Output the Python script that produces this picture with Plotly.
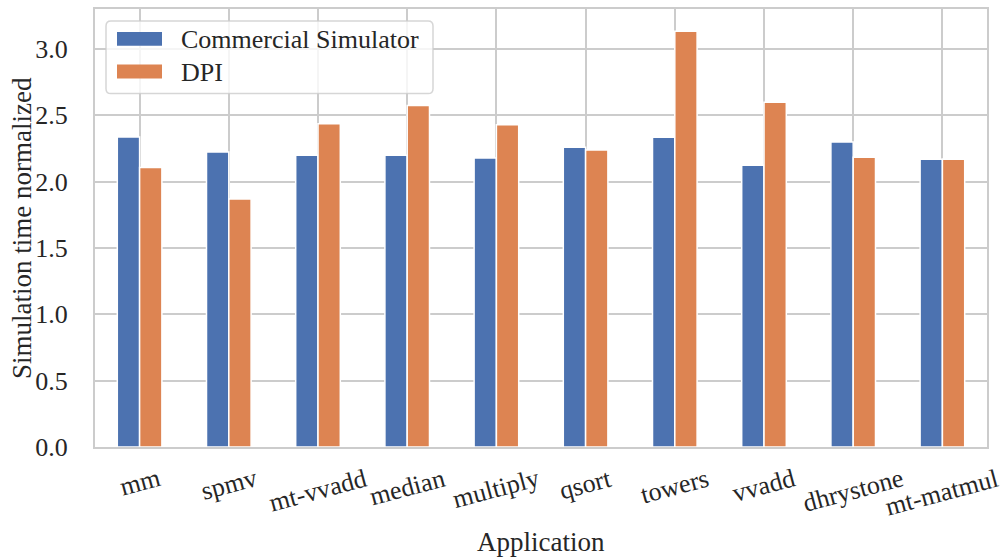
import plotly.graph_objects as go

# Benchmark applications and normalized simulation times
applications = ["mm", "spmv", "mt-vvadd", "median", "multiply", "qsort",
                "towers", "vvadd", "dhrystone", "mt-matmul"]
commercial_sim = [2.335, 2.223, 2.198, 2.198, 2.178, 2.258, 2.333, 2.123, 2.298, 2.168]
dpi = [2.105, 1.868, 2.436, 2.573, 2.428, 2.238, 3.133, 2.598, 2.183, 2.168]
series_names = ["Commercial Simulator", "DPI"]
y_ticks = [0.0, 0.5, 1.0, 1.5, 2.0, 2.5, 3.0]

BLUE = "#4C72B0"
ORANGE = "#DD8452"
GRID = "#cccccc"
TEXT = "#262626"
FONT = "Liberation Serif"
FS = 26          # tick labels and legend
FS_TITLE = 27    # axis titles

W, H = 1001, 557
L, R, T, B = 95, 14, 7, 110
PW, PH = W - L - R, H - T - B


def px_x(px):
    return (px - L) / PW


def px_y(py):
    return (H - B - py) / PH


fig = go.Figure()
for name, vals, col in [(series_names[0], commercial_sim, BLUE),
                        (series_names[1], dpi, ORANGE)]:
    fig.add_trace(go.Bar(
        x=applications, y=vals, name=name,
        marker=dict(color=col, line=dict(color="white", width=1.5)),
        showlegend=False,
    ))

fig.update_layout(
    width=W, height=H,
    margin=dict(l=L, r=R, t=T, b=B, pad=0),
    paper_bgcolor="white", plot_bgcolor="white",
    barmode="group", bargap=0.5, bargroupgap=0,
    font=dict(family=FONT, size=FS, color=TEXT),
)
fig.update_xaxes(
    range=[-0.5, len(applications) - 0.5],
    showgrid=True, gridcolor=GRID, gridwidth=1.5,
    showline=True, linecolor=GRID, linewidth=2, mirror=True,
    showticklabels=False, ticks="", zeroline=False,
)
fig.update_yaxes(
    range=[0, 3.3], tickvals=y_ticks, ticktext=[f"{v:.1f}" for v in y_ticks],
    showgrid=True, gridcolor=GRID, gridwidth=1.5,
    showline=True, linecolor=GRID, linewidth=2, mirror=True,
    ticks="", zeroline=False, ticklabelstandoff=20,
    tickfont=dict(family=FONT, size=FS, color=TEXT),
)

# Rotated category labels, centred under each group
for app in applications:
    fig.add_annotation(
        x=app, y=0, xref="x", yref="paper", yanchor="top", xanchor="center",
        yshift=-14, text=app, textangle=-15, showarrow=False,
        font=dict(family=FONT, size=FS, color=TEXT),
    )

# Axis titles
fig.add_annotation(x=0.5, y=px_y(542), xref="paper", yref="paper",
                   xanchor="center", yanchor="middle", text="Application",
                   showarrow=False, font=dict(family=FONT, size=FS_TITLE, color=TEXT))
fig.add_annotation(x=px_x(22), y=0.5, xref="paper", yref="paper",
                   xanchor="center", yanchor="middle", textangle=-90,
                   text="Simulation time normalized", showarrow=False,
                   font=dict(family=FONT, size=FS_TITLE, color=TEXT))

# Legend frame with rounded corners
x0, x1, y0, y1 = px_x(106), px_x(433), px_y(92), px_y(19)
rx, ry = 5 / PW, 5 / PH
path = (f"M {x0+rx},{y1} L {x1-rx},{y1} Q {x1},{y1} {x1},{y1-ry} "
        f"L {x1},{y0+ry} Q {x1},{y0} {x1-rx},{y0} L {x0+rx},{y0} "
        f"Q {x0},{y0} {x0},{y0+ry} L {x0},{y1-ry} Q {x0},{y1} {x0+rx},{y1} Z")
fig.add_shape(type="path", path=path, xref="paper", yref="paper",
              fillcolor="rgba(255,255,255,0.8)",
              line=dict(color="rgba(204,204,204,0.8)", width=1.5))

for i, (name, col) in enumerate(zip(series_names, [BLUE, ORANGE])):
    top = 30 + i * 32.7
    fig.add_shape(type="rect", xref="paper", yref="paper",
                  x0=px_x(117), x1=px_x(162), y0=px_y(top + 14), y1=px_y(top),
                  fillcolor=col, line=dict(width=0))
    fig.add_annotation(x=px_x(179), y=px_y(top + 8), xref="paper", yref="paper",
                       xanchor="left", yanchor="middle", text=name,
                       showarrow=False, font=dict(family=FONT, size=FS, color=TEXT))

fig.write_html("out.html")
